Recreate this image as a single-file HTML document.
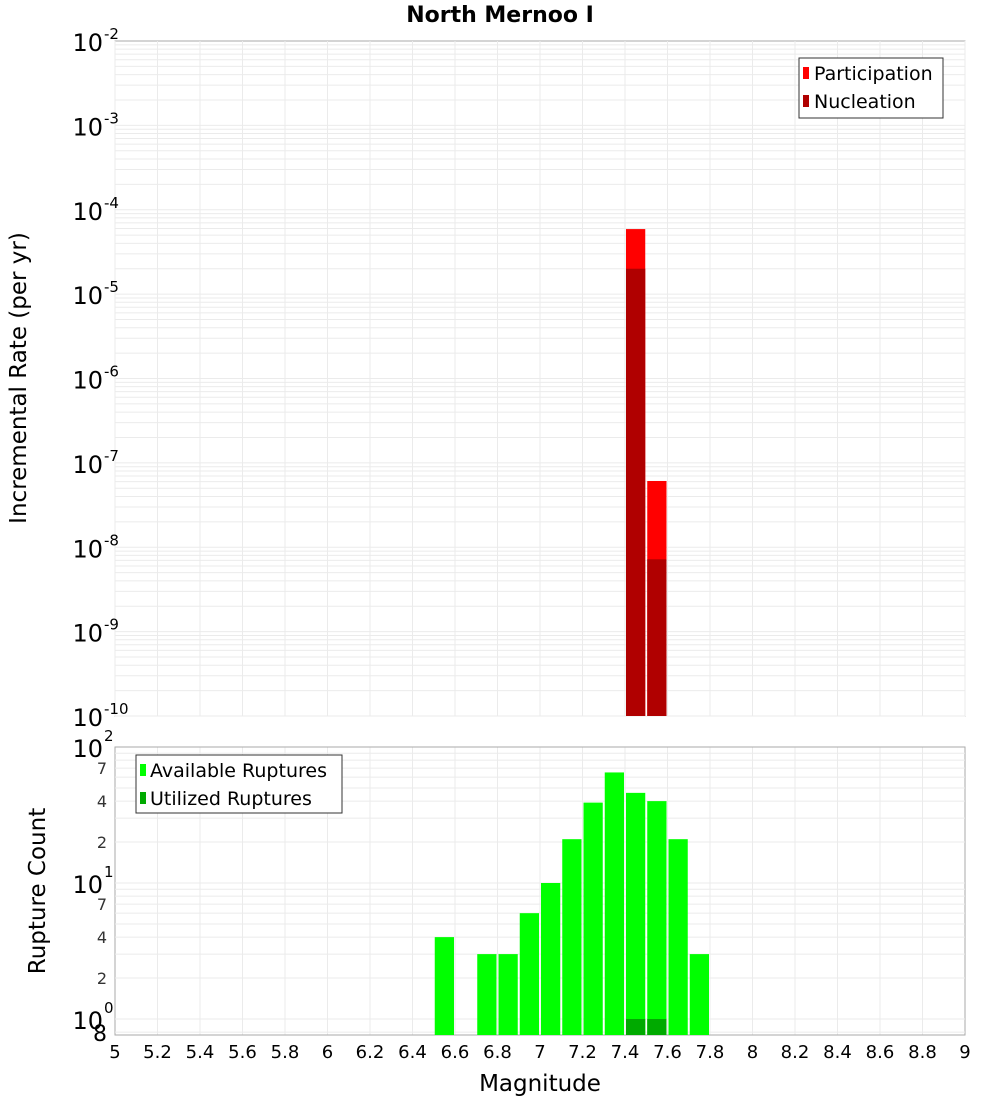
<!DOCTYPE html>
<html><head><meta charset="utf-8"><style>
body{margin:0;background:#fff;font-family:"Liberation Sans","DejaVu Sans",sans-serif;}
svg text{font-family:"DejaVu Sans","Liberation Sans",sans-serif;}
</style></head><body>
<svg id="c" width="1000" height="1100">
<text x="500" y="22" text-anchor="middle" font-size="22" font-weight="bold">North Mernoo I</text>
</svg>
<script>
const mags=[6.55,6.75,6.85,6.95,7.05,7.15,7.25,7.35,7.45,7.55,7.65,7.75];
const available=[4,3,3,6,10,21,39,65,46,40,21,3];
const utilMags=[7.45,7.55];
const utilized=[1,1];
const rateMags=[7.45,7.55];
const participation=[5.9e-5,6.1e-8];
const nucleation=[2.0e-5,7.2e-9];
const xTicks=[5,5.2,5.4,5.6,5.8,6,6.2,6.4,6.6,6.8,7,7.2,7.4,7.6,7.8,8,8.2,8.4,8.6,8.8,9];
const topExps=[-2,-3,-4,-5,-6,-7,-8,-9,-10];
const botMinorLabels=[7,4,2];

const svg=document.getElementById('c');const NS='http://www.w3.org/2000/svg';
function el(t,a,p){const e=document.createElementNS(NS,t);for(const k in a)e.setAttribute(k,a[k]);(p||svg).appendChild(e);return e;}
const L=115,R=965;
const X=v=>L+(v-5)/4*(R-L);
const T1=41,B1=716,Yt=v=>T1+(-2-Math.log10(v))/8*(B1-T1);
const T2=747,D2=136,Yb=v=>T2+(2-Math.log10(v))*D2,B2=1035;

// top plot
el('rect',{x:L,y:T1,width:R-L,height:B1-T1,fill:'#fff',stroke:'#aaa'});
for(let e=-10;e<-2;e++)for(let m=1;m<10;m++){const y=Yt(m*Math.pow(10,e));const g=el('line',{x1:L,x2:R,y1:y,y2:y,stroke:'#ebebeb'});}
xTicks.forEach(t=>{el('line',{x1:X(t),x2:X(t),y1:T1,y2:B1,stroke:'#ebebeb'});el('line',{x1:X(t),x2:X(t),y1:T2,y2:B2,stroke:'#ebebeb'});});
topExps.forEach(e=>{const y=Yt(Math.pow(10,e));const t=el('text',{x:103,y:y+10,'text-anchor':'end','font-size':24});t.textContent='10';const s=el('text',{x:104,y:y-2,'font-size':15},);s.textContent=String(e);});
rateMags.forEach((m,i)=>{const x0=X(m-0.05)+1,w=X(m+0.05)-X(m-0.05)-2;
const b=el('rect',{x:x0,y:Yt(participation[i]),width:w,height:B1-Yt(participation[i]),fill:'#ff0000'});
const n=el('rect',{x:x0,y:Yt(nucleation[i]),width:w,height:B1-Yt(nucleation[i]),fill:'#b00000'});});
let lg=el('g',{});
el('rect',{x:799,y:58,width:144,height:60,fill:'#fff',stroke:'#333'},lg);
el('rect',{x:803,y:67,width:6,height:12,fill:'#ff0000'},lg);el('text',{x:814,y:80,'font-size':19},lg).textContent='Participation';
el('rect',{x:803,y:95,width:6,height:12,fill:'#b00000'},lg);el('text',{x:814,y:108,'font-size':19},lg).textContent='Nucleation';
let yt=el('text',{x:26,y:378,'text-anchor':'middle','font-size':23,transform:'rotate(-90 26 378)'});yt.textContent='Incremental Rate (per yr)';

// bottom plot
el('rect',{x:L,y:T2,width:R-L,height:B2-T2,fill:'none',stroke:'#aaa'});
[0,1].forEach(e=>{for(let m=1;m<10;m++){const y=Yb(m*Math.pow(10,e));if(y<=B2)el('line',{x1:L,x2:R,y1:y,y2:y,stroke:'#ebebeb'});}});
el('line',{x1:L,x2:R,y1:Yb(0.8),y2:Yb(0.8),stroke:'#ebebeb'});
[2,1,0].forEach(e=>{const y=Yb(Math.pow(10,e));const t=el('text',{x:103,y:y+10,'text-anchor':'end','font-size':24});t.textContent='10';el('text',{x:104,y:y-6,'font-size':15}).textContent=String(e);});
[1,0].forEach(e=>botMinorLabels.forEach(m=>{const y=Yb(m*Math.pow(10,e));el('text',{x:107,y:y+6,'text-anchor':'end','font-size':16,fill:'#333'}).textContent=String(m);}));
el('text',{x:107,y:1041,'text-anchor':'end','font-size':22}).textContent='8';
mags.forEach((m,i)=>{const x0=X(m-0.05)+1,w=X(m+0.05)-X(m-0.05)-2;const b=el('rect',{x:x0,y:Yb(available[i]),width:w,height:B2-Yb(available[i]),fill:'#00ff00'});});
utilMags.forEach((m,i)=>{const x0=X(m-0.05)+1,w=X(m+0.05)-X(m-0.05)-2;const b=el('rect',{x:x0,y:Yb(utilized[i]),width:w,height:B2-Yb(utilized[i]),fill:'#00aa00'});});
let lg2=el('g',{});
el('rect',{x:136,y:755,width:206,height:58,fill:'#fff',stroke:'#333'},lg2);
el('rect',{x:140,y:764,width:6,height:12,fill:'#00ff00'},lg2);el('text',{x:150,y:777,'font-size':19},lg2).textContent='Available Ruptures';
el('rect',{x:140,y:792,width:6,height:12,fill:'#00aa00'},lg2);el('text',{x:150,y:805,'font-size':19},lg2).textContent='Utilized Ruptures';
let yt2=el('text',{x:45,y:891,'text-anchor':'middle','font-size':23,transform:'rotate(-90 45 891)'});yt2.textContent='Rupture Count';
xTicks.forEach(t=>{const s=el('text',{x:X(t),y:1058,'text-anchor':'middle','font-size':18});s.textContent=String(t);});
let xt=el('text',{x:540,y:1091,'text-anchor':'middle','font-size':23});xt.textContent='Magnitude';
</script>
</body></html>
